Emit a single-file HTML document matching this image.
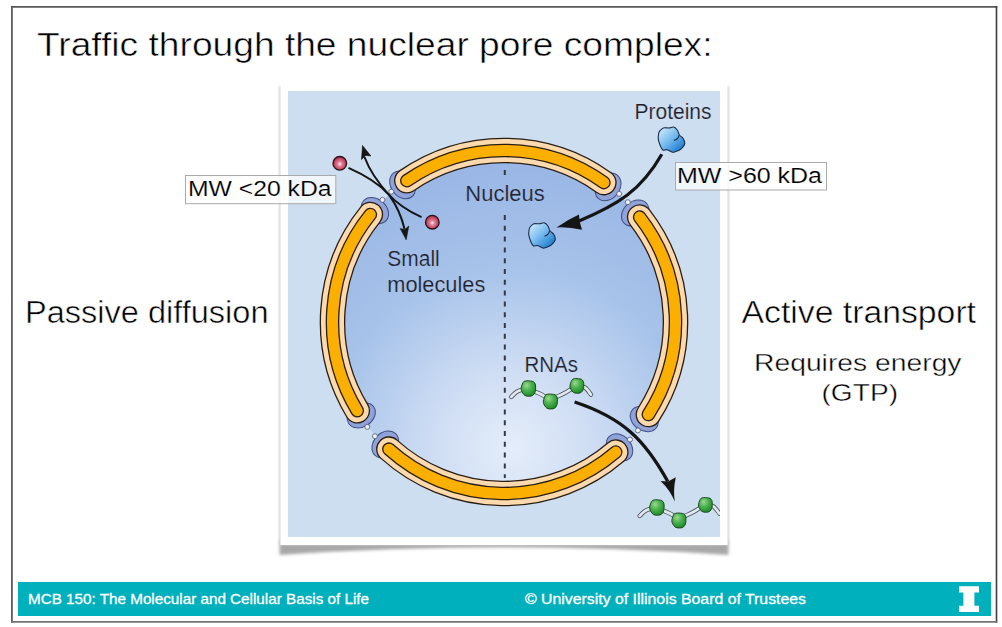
<!DOCTYPE html>
<html><head><meta charset="utf-8"><style>
html,body{margin:0;padding:0;background:#fff;}
body{width:1002px;height:627px;position:relative;overflow:hidden;font-family:"Liberation Sans",sans-serif;}
svg{position:absolute;left:0;top:0;}
</style></head><body>
<svg width="1002" height="627" viewBox="0 0 1002 627">
<defs>
  <filter id="blur1" x="-10%" y="-10%" width="120%" height="120%"><feGaussianBlur stdDeviation="0.8"/></filter>
  <filter id="blur2" x="-10%" y="-50%" width="120%" height="200%"><feGaussianBlur stdDeviation="1.6"/></filter>
</defs>
<!-- slide border -->
<path d="M11.9,5.9 V622.8" stroke="#5c5c5c" stroke-width="1.8"/>
<path d="M11,6.8 H997.3" stroke="#585858" stroke-width="1.8"/>
<path d="M996.5,5.9 V622.8" stroke="#3e3e3e" stroke-width="1.6"/>
<path d="M11,621.9 H997.3" stroke="#737373" stroke-width="1.8"/>
<!-- title -->
<text x="37" y="55.8" font-family="Liberation Sans" font-size="32.8" fill="#000" stroke="#fff" stroke-width="0.5" textLength="675.5" lengthAdjust="spacingAndGlyphs">Traffic through the nuclear pore complex:</text>
<!-- frame shadow -->
<g filter="url(#blur2)">
  <path d="M279.5,540 L728.5,540 L728.5,555 Q503,539.5 279.5,555 Z" fill="#a8a8a8"/>
</g>
<rect x="279" y="86" width="450" height="459" fill="#d4d4d4" filter="url(#blur1)"/>
<rect x="280.5" y="84.5" width="447" height="460.5" fill="#fff"/>

<defs>
  <clipPath id="imgclip"><rect x="288" y="91" width="432" height="446"/></clipPath>
  <radialGradient id="nuc" gradientUnits="userSpaceOnUse" cx="512" cy="448" r="300" fx="512" fy="448">
    <stop offset="0" stop-color="#e4edfa"/>
    <stop offset="0.25" stop-color="#d0def4"/>
    <stop offset="0.6" stop-color="#a7c3ea"/>
    <stop offset="1" stop-color="#98b4e4"/>
  </radialGradient>
  <radialGradient id="red" cx="0.5" cy="0.55" r="0.55">
    <stop offset="0" stop-color="#fff4f6"/>
    <stop offset="0.3" stop-color="#df8398"/>
    <stop offset="0.75" stop-color="#c2435e"/>
    <stop offset="1" stop-color="#a32a45"/>
  </radialGradient>
  <linearGradient id="pg" x1="0.1" y1="0.1" x2="0.9" y2="0.9">
    <stop offset="0" stop-color="#c8e6fb"/>
    <stop offset="0.45" stop-color="#79bcef"/>
    <stop offset="1" stop-color="#1778cf"/>
  </linearGradient>
  <radialGradient id="gg" cx="0.38" cy="0.3" r="0.75">
    <stop offset="0" stop-color="#9cd892"/>
    <stop offset="0.45" stop-color="#4db24f"/>
    <stop offset="1" stop-color="#168a26"/>
  </radialGradient>
</defs>
<g clip-path="url(#imgclip)">
  <rect x="288" y="91" width="432" height="446" fill="#cddef0"/>
  <circle cx="504" cy="322" r="171.5" fill="url(#nuc)"/>
  <path d="M504.8,170 V176 M504.8,215 V478" stroke="#333844" stroke-width="2" stroke-dasharray="5 5.8"/>
  <ellipse cx="374.95" cy="210.57" rx="15" ry="11.5" transform="rotate(-139.19 374.95 210.57)" fill="#8fa2d9" stroke="#3e4c80" stroke-width="1"/><ellipse cx="402.56" cy="184.96" rx="15" ry="11.5" transform="rotate(-126.51 402.56 184.96)" fill="#8fa2d9" stroke="#3e4c80" stroke-width="1"/><ellipse cx="608.06" cy="186.94" rx="15" ry="11.5" transform="rotate(-52.39 608.06 186.94)" fill="#8fa2d9" stroke="#3e4c80" stroke-width="1"/><ellipse cx="635.16" cy="213.06" rx="15" ry="11.5" transform="rotate(-39.71 635.16 213.06)" fill="#8fa2d9" stroke="#3e4c80" stroke-width="1"/><ellipse cx="644.24" cy="418.97" rx="15" ry="11.5" transform="rotate(34.66 644.24 418.97)" fill="#8fa2d9" stroke="#3e4c80" stroke-width="1"/><ellipse cx="619.54" cy="447.38" rx="15" ry="11.5" transform="rotate(47.34 619.54 447.38)" fill="#8fa2d9" stroke="#3e4c80" stroke-width="1"/><ellipse cx="385.22" cy="444.31" rx="15" ry="11.5" transform="rotate(134.16 385.22 444.31)" fill="#8fa2d9" stroke="#3e4c80" stroke-width="1"/><ellipse cx="361.27" cy="415.26" rx="15" ry="11.5" transform="rotate(146.84 361.27 415.26)" fill="#8fa2d9" stroke="#3e4c80" stroke-width="1"/>
  <circle cx="382.48" cy="199.85" r="2.5" fill="#eef1f8" stroke="#4a5570" stroke-width="0.8"/><circle cx="391.30" cy="191.67" r="2.5" fill="#eef1f8" stroke="#4a5570" stroke-width="0.8"/><circle cx="619.18" cy="193.86" r="2.5" fill="#eef1f8" stroke="#4a5570" stroke-width="0.8"/><circle cx="627.84" cy="202.20" r="2.5" fill="#eef1f8" stroke="#4a5570" stroke-width="0.8"/><circle cx="637.90" cy="430.43" r="2.5" fill="#eef1f8" stroke="#4a5570" stroke-width="0.8"/><circle cx="630.01" cy="439.51" r="2.5" fill="#eef1f8" stroke="#4a5570" stroke-width="0.8"/><circle cx="374.95" cy="436.17" r="2.5" fill="#eef1f8" stroke="#4a5570" stroke-width="0.8"/><circle cx="367.31" cy="426.89" r="2.5" fill="#eef1f8" stroke="#4a5570" stroke-width="0.8"/>
  <g fill="none" stroke-linecap="round"><path d="M406.84,180.67 A171.5,171.5 0 0 1 603.85,182.57" stroke="#2a1e12" stroke-width="25.6"/><path d="M406.84,180.67 A171.5,171.5 0 0 1 603.85,182.57" stroke="#fdd9ae" stroke-width="23"/><path d="M406.84,180.67 A171.5,171.5 0 0 1 603.85,182.57" stroke="#2a1e12" stroke-width="13.6"/><path d="M406.84,180.67 A171.5,171.5 0 0 1 603.85,182.57" stroke="#fbaf00" stroke-width="11"/><path d="M639.68,217.11 A171.5,171.5 0 0 1 648.39,414.54" stroke="#2a1e12" stroke-width="25.6"/><path d="M639.68,217.11 A171.5,171.5 0 0 1 648.39,414.54" stroke="#fdd9ae" stroke-width="23"/><path d="M639.68,217.11 A171.5,171.5 0 0 1 648.39,414.54" stroke="#2a1e12" stroke-width="13.6"/><path d="M639.68,217.11 A171.5,171.5 0 0 1 648.39,414.54" stroke="#fbaf00" stroke-width="11"/><path d="M615.74,452.10 A171.5,171.5 0 0 1 388.90,449.13" stroke="#2a1e12" stroke-width="25.6"/><path d="M615.74,452.10 A171.5,171.5 0 0 1 388.90,449.13" stroke="#fdd9ae" stroke-width="23"/><path d="M615.74,452.10 A171.5,171.5 0 0 1 388.90,449.13" stroke="#2a1e12" stroke-width="13.6"/><path d="M615.74,452.10 A171.5,171.5 0 0 1 388.90,449.13" stroke="#fbaf00" stroke-width="11"/><path d="M357.24,410.73 A171.5,171.5 0 0 1 370.36,214.52" stroke="#2a1e12" stroke-width="25.6"/><path d="M357.24,410.73 A171.5,171.5 0 0 1 370.36,214.52" stroke="#fdd9ae" stroke-width="23"/><path d="M357.24,410.73 A171.5,171.5 0 0 1 370.36,214.52" stroke="#2a1e12" stroke-width="13.6"/><path d="M357.24,410.73 A171.5,171.5 0 0 1 370.36,214.52" stroke="#fbaf00" stroke-width="11"/></g>
  <!-- small molecules -->
  <path d="M348.5,167.8 C366,175.5 380,185 388,193.8 C396,202.5 406,210 421.5,217.2" fill="none" stroke="#151515" stroke-width="2"/>
  <path d="M364.5,157 C370,172 380,185 389.4,195.3 C397,206 402,218 404.5,229" fill="none" stroke="#151515" stroke-width="2"/>
  <path d="M362.5,145.5 L370.9,156 L365.8,155.4 L361.5,159.6 Z" fill="#151515" stroke="#151515" stroke-width="0.6" stroke-linejoin="round"/>
  <path d="M406.2,239.8 L400.2,228.6 L404.8,229.6 L408.8,226 Z" fill="#151515" stroke="#151515" stroke-width="0.6" stroke-linejoin="round"/>
  <circle cx="339.8" cy="163.3" r="6.8" fill="url(#red)" stroke="#2a1218" stroke-width="1.3"/>
  <circle cx="432.3" cy="222.2" r="6.8" fill="url(#red)" stroke="#2a1218" stroke-width="1.3"/>
  <!-- proteins -->
  <path d="M659.60,131.20 C660.40,130.20 661.82,128.53 663.40,128.00 C664.98,127.47 667.40,128.17 669.10,128.00 C670.80,127.83 672.22,126.63 673.60,127.00 C674.98,127.37 676.43,128.87 677.40,130.20 C678.37,131.53 678.43,133.62 679.40,135.00 C680.37,136.38 682.30,137.07 683.20,138.50 C684.10,139.93 684.90,142.12 684.80,143.60 C684.70,145.08 683.40,146.38 682.60,147.40 C681.80,148.42 681.18,149.00 680.00,149.70 C678.82,150.40 676.78,151.18 675.50,151.60 C674.22,152.02 673.68,152.52 672.30,152.20 C670.92,151.88 668.78,150.07 667.20,149.70 C665.62,149.33 663.97,150.70 662.80,150.00 C661.63,149.30 660.95,147.32 660.20,145.50 C659.45,143.68 658.57,141.02 658.30,139.10 C658.03,137.18 658.38,135.32 658.60,134.00 C658.82,132.68 658.80,132.20 659.60,131.20 Z" fill="url(#pg)" stroke="#1b2a44" stroke-width="1.1"/><path d="M679.00,135.30 Q678.00,139.50 674.00,140.40" fill="none" stroke="#1b2a44" stroke-width="1.1"/>
  <path d="M530.10,227.00 C530.90,226.00 532.32,224.33 533.90,223.80 C535.48,223.27 537.90,223.97 539.60,223.80 C541.30,223.63 542.72,222.43 544.10,222.80 C545.48,223.17 546.93,224.67 547.90,226.00 C548.87,227.33 548.93,229.42 549.90,230.80 C550.87,232.18 552.80,232.87 553.70,234.30 C554.60,235.73 555.40,237.92 555.30,239.40 C555.20,240.88 553.90,242.18 553.10,243.20 C552.30,244.22 551.68,244.80 550.50,245.50 C549.32,246.20 547.28,246.98 546.00,247.40 C544.72,247.82 544.18,248.32 542.80,248.00 C541.42,247.68 539.28,245.87 537.70,245.50 C536.12,245.13 534.47,246.50 533.30,245.80 C532.13,245.10 531.45,243.12 530.70,241.30 C529.95,239.48 529.07,236.82 528.80,234.90 C528.53,232.98 528.88,231.12 529.10,229.80 C529.32,228.48 529.30,228.00 530.10,227.00 Z" fill="url(#pg)" stroke="#1b2a44" stroke-width="1.1"/><path d="M549.50,231.10 Q548.50,235.30 544.50,236.20" fill="none" stroke="#1b2a44" stroke-width="1.1"/>
  <path d="M661.8,154.3 C641,190.8 617.4,205 579,221" fill="none" stroke="#151515" stroke-width="3.2"/><path d="M556.5,227.4 Q568,219.5 579,214.5 L579.5,221 L582,229.8 Q568,226.5 556.5,227.4 Z" fill="#151515"/>
  <!-- RNAs -->
  <path d="M511.20,396.90 C512.12,396.07 514.85,393.12 516.70,391.90 C518.55,390.68 520.33,390.17 522.30,389.60 C524.27,389.03 526.27,388.12 528.50,388.50 C530.73,388.88 533.02,390.60 535.70,391.90 C538.38,393.20 542.18,394.63 544.60,396.30 C547.02,397.97 548.22,401.78 550.20,401.90 C552.18,402.02 554.08,398.48 556.50,397.00 C558.92,395.52 562.22,394.33 564.70,393.00 C567.18,391.67 569.35,390.17 571.40,389.00 C573.45,387.83 574.77,386.27 577.00,386.00 C579.23,385.73 582.47,385.97 584.80,387.40 C587.13,388.83 589.97,393.40 591.00,394.60 " fill="none" stroke="#4a4f58" stroke-width="4.4" stroke-linecap="round"/><path d="M511.20,396.90 C512.12,396.07 514.85,393.12 516.70,391.90 C518.55,390.68 520.33,390.17 522.30,389.60 C524.27,389.03 526.27,388.12 528.50,388.50 C530.73,388.88 533.02,390.60 535.70,391.90 C538.38,393.20 542.18,394.63 544.60,396.30 C547.02,397.97 548.22,401.78 550.20,401.90 C552.18,402.02 554.08,398.48 556.50,397.00 C558.92,395.52 562.22,394.33 564.70,393.00 C567.18,391.67 569.35,390.17 571.40,389.00 C573.45,387.83 574.77,386.27 577.00,386.00 C579.23,385.73 582.47,385.97 584.80,387.40 C587.13,388.83 589.97,393.40 591.00,394.60 " fill="none" stroke="#e2e8ef" stroke-width="2.8" stroke-linecap="round"/><path d="M522.30,384.10 C522.75,382.93 523.05,382.15 523.80,381.60 C524.55,381.05 525.72,380.90 526.80,380.80 C527.88,380.70 529.22,380.87 530.30,381.00 C531.38,381.13 532.47,381.08 533.30,381.60 C534.13,382.12 534.92,383.02 535.30,384.10 C535.68,385.18 535.63,386.77 535.60,388.10 C535.57,389.43 535.57,390.88 535.10,392.10 C534.63,393.32 533.85,394.72 532.80,395.40 C531.75,396.08 530.13,396.20 528.80,396.20 C527.47,396.20 525.92,396.08 524.80,395.40 C523.68,394.72 522.72,393.23 522.10,392.10 C521.48,390.97 521.07,389.93 521.10,388.60 C521.13,387.27 521.85,385.27 522.30,384.10 Z" fill="url(#gg)" stroke="#1d4a22" stroke-width="1"/><path d="M544.48,397.24 C544.92,396.10 545.21,395.34 545.93,394.81 C546.66,394.28 547.79,394.13 548.84,394.03 C549.90,393.94 551.19,394.10 552.24,394.23 C553.29,394.36 554.34,394.31 555.15,394.81 C555.96,395.31 556.72,396.18 557.09,397.24 C557.46,398.29 557.41,399.82 557.38,401.12 C557.35,402.41 557.35,403.81 556.90,405.00 C556.44,406.18 555.68,407.53 554.66,408.20 C553.65,408.86 552.08,408.97 550.78,408.97 C549.49,408.97 547.99,408.86 546.90,408.20 C545.82,407.53 544.88,406.09 544.29,405.00 C543.69,403.90 543.28,402.89 543.32,401.60 C543.35,400.31 544.04,398.37 544.48,397.24 Z" fill="url(#gg)" stroke="#1d4a22" stroke-width="1"/><path d="M571.10,381.73 C571.53,380.62 571.81,379.87 572.52,379.35 C573.24,378.83 574.35,378.69 575.38,378.59 C576.40,378.49 577.67,378.65 578.70,378.78 C579.73,378.91 580.76,378.86 581.55,379.35 C582.34,379.84 583.09,380.70 583.45,381.73 C583.81,382.75 583.77,384.26 583.73,385.52 C583.70,386.79 583.70,388.17 583.26,389.32 C582.82,390.48 582.07,391.81 581.07,392.46 C580.08,393.11 578.54,393.22 577.27,393.22 C576.01,393.22 574.54,393.11 573.47,392.46 C572.41,391.81 571.50,390.40 570.91,389.32 C570.32,388.25 569.93,387.27 569.96,386.00 C569.99,384.73 570.67,382.83 571.10,381.73 Z" fill="url(#gg)" stroke="#1d4a22" stroke-width="1"/>
  <path d="M639.70,515.90 C640.62,515.07 643.35,512.12 645.20,510.90 C647.05,509.68 648.83,509.17 650.80,508.60 C652.77,508.03 654.77,507.12 657.00,507.50 C659.23,507.88 661.52,509.60 664.20,510.90 C666.88,512.20 670.68,513.63 673.10,515.30 C675.52,516.97 676.72,520.78 678.70,520.90 C680.68,521.02 682.58,517.48 685.00,516.00 C687.42,514.52 690.72,513.33 693.20,512.00 C695.68,510.67 697.85,509.17 699.90,508.00 C701.95,506.83 703.27,505.27 705.50,505.00 C707.73,504.73 710.97,504.97 713.30,506.40 C715.63,507.83 718.47,512.40 719.50,513.60 " fill="none" stroke="#4a4f58" stroke-width="4.4" stroke-linecap="round"/><path d="M639.70,515.90 C640.62,515.07 643.35,512.12 645.20,510.90 C647.05,509.68 648.83,509.17 650.80,508.60 C652.77,508.03 654.77,507.12 657.00,507.50 C659.23,507.88 661.52,509.60 664.20,510.90 C666.88,512.20 670.68,513.63 673.10,515.30 C675.52,516.97 676.72,520.78 678.70,520.90 C680.68,521.02 682.58,517.48 685.00,516.00 C687.42,514.52 690.72,513.33 693.20,512.00 C695.68,510.67 697.85,509.17 699.90,508.00 C701.95,506.83 703.27,505.27 705.50,505.00 C707.73,504.73 710.97,504.97 713.30,506.40 C715.63,507.83 718.47,512.40 719.50,513.60 " fill="none" stroke="#e2e8ef" stroke-width="2.8" stroke-linecap="round"/><path d="M650.80,503.10 C651.25,501.93 651.55,501.15 652.30,500.60 C653.05,500.05 654.22,499.90 655.30,499.80 C656.38,499.70 657.72,499.87 658.80,500.00 C659.88,500.13 660.97,500.08 661.80,500.60 C662.63,501.12 663.42,502.02 663.80,503.10 C664.18,504.18 664.13,505.77 664.10,507.10 C664.07,508.43 664.07,509.88 663.60,511.10 C663.13,512.32 662.35,513.72 661.30,514.40 C660.25,515.08 658.63,515.20 657.30,515.20 C655.97,515.20 654.42,515.08 653.30,514.40 C652.18,513.72 651.22,512.23 650.60,511.10 C649.98,509.97 649.57,508.93 649.60,507.60 C649.63,506.27 650.35,504.27 650.80,503.10 Z" fill="url(#gg)" stroke="#1d4a22" stroke-width="1"/><path d="M672.98,516.24 C673.42,515.10 673.71,514.34 674.43,513.81 C675.16,513.28 676.29,513.13 677.34,513.03 C678.40,512.94 679.69,513.10 680.74,513.23 C681.79,513.36 682.84,513.31 683.65,513.81 C684.46,514.31 685.22,515.18 685.59,516.24 C685.96,517.29 685.91,518.82 685.88,520.12 C685.85,521.41 685.85,522.81 685.40,524.00 C684.94,525.18 684.18,526.53 683.16,527.20 C682.15,527.86 680.58,527.97 679.28,527.97 C677.99,527.97 676.49,527.86 675.40,527.20 C674.32,526.53 673.38,525.09 672.79,524.00 C672.19,522.90 671.78,521.89 671.82,520.60 C671.85,519.31 672.54,517.37 672.98,516.24 Z" fill="url(#gg)" stroke="#1d4a22" stroke-width="1"/><path d="M699.60,500.73 C700.03,499.62 700.31,498.87 701.02,498.35 C701.74,497.83 702.85,497.69 703.88,497.59 C704.90,497.49 706.17,497.65 707.20,497.78 C708.23,497.91 709.26,497.86 710.05,498.35 C710.84,498.84 711.59,499.70 711.95,500.73 C712.31,501.75 712.27,503.26 712.23,504.52 C712.20,505.79 712.20,507.17 711.76,508.32 C711.32,509.48 710.57,510.81 709.57,511.46 C708.58,512.11 707.04,512.22 705.77,512.22 C704.51,512.22 703.04,512.11 701.97,511.46 C700.91,510.81 700.00,509.40 699.41,508.32 C698.82,507.25 698.43,506.27 698.46,505.00 C698.49,503.73 699.17,501.83 699.60,500.73 Z" fill="url(#gg)" stroke="#1d4a22" stroke-width="1"/>
  <path d="M574.6,402 C623,418 645,440 667.8,481.5" fill="none" stroke="#151515" stroke-width="3.3"/><path d="M674.8,501.6 Q670,490 660.6,481 L668.2,481.5 L675.8,477.2 Q673,490 674.8,501.6 Z" fill="#151515"/>
  <g font-family="Liberation Sans" font-size="21.3" fill="#1f2028" stroke="url(#nuc)" stroke-width="0.2">
    <text stroke="#cddef0" stroke-width="0.2" x="634.5" y="118.8" textLength="77" lengthAdjust="spacingAndGlyphs">Proteins</text>
    <text x="465.3" y="200.8" textLength="79.5" lengthAdjust="spacingAndGlyphs">Nucleus</text>
    <text x="387.3" y="265.7" textLength="52.5" lengthAdjust="spacingAndGlyphs">Small</text>
    <text x="387.3" y="291.6" textLength="98" lengthAdjust="spacingAndGlyphs">molecules</text>
    <text x="524.5" y="371.6" textLength="53.5" lengthAdjust="spacingAndGlyphs">RNAs</text>
  </g>
</g>

<!-- MW boxes -->
<rect x="185.5" y="175.5" width="150.3" height="28.2" fill="#fff" fill-opacity="0.72" stroke="#aaaaaa" stroke-width="1"/>
<text x="188" y="196" font-family="Liberation Sans" font-size="22.6" fill="#000" stroke="#f8fafd" stroke-width="0.15" textLength="143.5" lengthAdjust="spacingAndGlyphs">MW &lt;20 kDa</text>
<rect x="675.5" y="162.5" width="151" height="27.5" fill="#fff" fill-opacity="0.72" stroke="#aaaaaa" stroke-width="1"/>
<text x="677" y="182.7" font-family="Liberation Sans" font-size="22.6" fill="#000" stroke="#f8fafd" stroke-width="0.15" textLength="145" lengthAdjust="spacingAndGlyphs">MW &gt;60 kDa</text>
<!-- side labels -->
<text x="25" y="323.2" font-family="Liberation Sans" font-size="30.6" fill="#000" stroke="#fff" stroke-width="0.5" textLength="243.5" lengthAdjust="spacingAndGlyphs">Passive diffusion</text>
<text x="741.5" y="323.2" font-family="Liberation Sans" font-size="30.6" fill="#000" stroke="#fff" stroke-width="0.5" textLength="234.5" lengthAdjust="spacingAndGlyphs">Active transport</text>
<text x="754" y="370.9" font-family="Liberation Sans" font-size="24.3" fill="#000" stroke="#fff" stroke-width="0.4" textLength="207.5" lengthAdjust="spacingAndGlyphs">Requires energy</text>
<text x="821.5" y="401" font-family="Liberation Sans" font-size="24.3" fill="#000" stroke="#fff" stroke-width="0.4" textLength="76.5" lengthAdjust="spacingAndGlyphs">(GTP)</text>
<!-- footer -->
<rect x="18" y="582" width="973" height="34" fill="#00b0bc"/>
<text x="28" y="603.8" font-family="Liberation Sans" font-size="14.3" fill="#fff" stroke="#fff" stroke-width="0.3" textLength="341" lengthAdjust="spacingAndGlyphs">MCB 150: The Molecular and Cellular Basis of Life</text>
<text x="525" y="603.8" font-family="Liberation Sans" font-size="14.3" fill="#fff" stroke="#fff" stroke-width="0.3" textLength="281" lengthAdjust="spacingAndGlyphs">© University of Illinois Board of Trustees</text>
<path d="M959,586.3 H979 V592.5 H974.4 V605.7 H979 V612 H959 V605.7 H963.4 V592.5 H959 Z" fill="#fff"/>
</svg>
</body></html>
